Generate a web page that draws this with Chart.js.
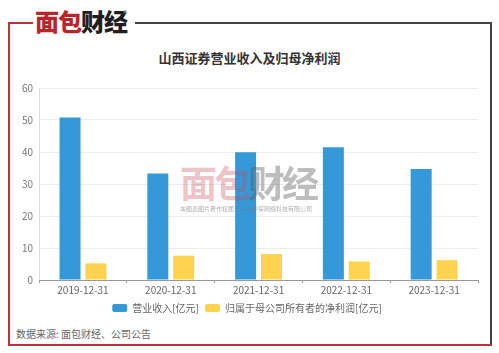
<!DOCTYPE html>
<html>
<head>
<meta charset="utf-8">
<script src="https://cdn.jsdelivr.net/npm/chart.js@4"></script>
<style>
  html, body { margin: 0; padding: 0; background: #fff; }
  body { width: 499px; height: 353px; position: relative; overflow: hidden;
         font-family: "Noto Sans CJK SC", "Noto Sans", sans-serif; }
  .line { position: absolute; }
  #logo { position: absolute; left: 35px; top: 6px; font-size: 24px; font-weight: 900;
          letter-spacing: -1px; line-height: 30px; white-space: nowrap; }
  #logo .r { color: #b8262c; }
  #logo .d { color: #1e1e1e; }
  #logo sup { font-size: 7px; color: #888; position: absolute; left: 88px; top: -8px; }
  #title { position: absolute; left: 0; width: 499px; top: 48px; text-align: center;
           font-size: 13px; font-weight: bold; color: #333; }
  #chart-wrap { position: absolute; left: 0; top: 70px; width: 499px; height: 253px; }
  #source { position: absolute; left: 16px; top: 326px; font-size: 10px; color: #666; }
  #wm { position: absolute; left: 180px; top: 160px; width: 140px; pointer-events: none; }
  #wm .big { font-size: 37px; font-weight: 700; letter-spacing: -3px; line-height: 44px; white-space: nowrap; }
  #wm .r { color: rgba(200, 70, 80, 0.32); }
  #wm .d { color: rgba(90, 90, 90, 0.4); }
  #wm .small { font-size: 6px; color: rgba(120, 120, 120, 0.6); white-space: nowrap; margin-top: 0px; }
</style>
</head>
<body>
<!-- frame -->
<div class="line" style="left:8px;top:22px;width:2px;height:324px;background:#c0303a;"></div>
<div class="line" style="left:8px;top:22px;width:25px;height:2px;background:#c0303a;"></div>
<div class="line" style="left:135px;top:22px;width:357px;height:2px;background:#444;"></div>
<div class="line" style="left:490px;top:22px;width:2px;height:324px;background:#444;"></div>
<div class="line" style="left:8px;top:344px;width:484px;height:2px;background:#c0303a;"></div>

<div id="logo"><span class="r">面包</span><span class="d">财经</span><sup>®</sup></div>
<div id="title">山西证券营业收入及归母净利润</div>

<div id="chart-wrap"><canvas id="chart"></canvas></div>

<div id="wm">
  <div class="big"><span class="r">面包</span><span class="d">财经</span></div>
  <div class="small">本图表图片著作权属于上海钞探网络科技有限公司</div>
</div>

<div id="source">数据来源: 面包财经、公司公告</div>

<script>
// ─── Data ────────────────────────────────────────────────
const categories = ['2019-12-31', '2020-12-31', '2021-12-31', '2022-12-31', '2023-12-31'];
const revenue    = [50.8, 33.3, 39.9, 41.5, 34.7];
const netProfit  = [5.2, 7.6, 8.1, 5.8, 6.2];
const yTicks     = [0, 10, 20, 30, 40, 50, 60];

const FONT = '"Noto Sans CJK SC", "Noto Sans", sans-serif';

new Chart(document.getElementById('chart'), {
  type: 'bar',
  data: {
    labels: categories,
    datasets: [
      { label: '营业收入[亿元]', data: revenue, backgroundColor: '#3599d9',
        categoryPercentage: 0.59, barPercentage: 0.81 },
      { label: '归属于母公司所有者的净利润[亿元]', data: netProfit, backgroundColor: '#fdd350',
        categoryPercentage: 0.59, barPercentage: 0.81 }
    ]
  },
  options: {
    responsive: true, maintainAspectRatio: false, animation: false,
    layout: { padding: { top: 18, right: 21, left: 16, bottom: 0 } },
    plugins: {
      legend: {
        position: 'bottom',
        labels: { color: '#666', boxWidth: 15, boxHeight: 8, padding: 6, useBorderRadius: true,
                  borderRadius: 2, font: { size: 10, family: FONT } }
      },
      tooltip: { enabled: false }
    },
    scales: {
      y: {
        min: 0, max: 60,
        afterBuildTicks: (axis) => { axis.ticks = yTicks.map(v => ({ value: v })); },
        ticks: { color: '#777', padding: 6, font: { size: 10, family: FONT } },
        grid: { color: '#ececec', drawTicks: false },
        border: { display: true, color: '#ddd' }
      },
      x: {
        ticks: { color: '#666', padding: 1, font: { size: 10, family: FONT } },
        grid: { offset: true, drawOnChartArea: false, drawTicks: true, tickLength: 3, color: '#999' },
        border: { display: true, color: '#999' }
      }
    }
  }
});
</script>
</body>
</html>
